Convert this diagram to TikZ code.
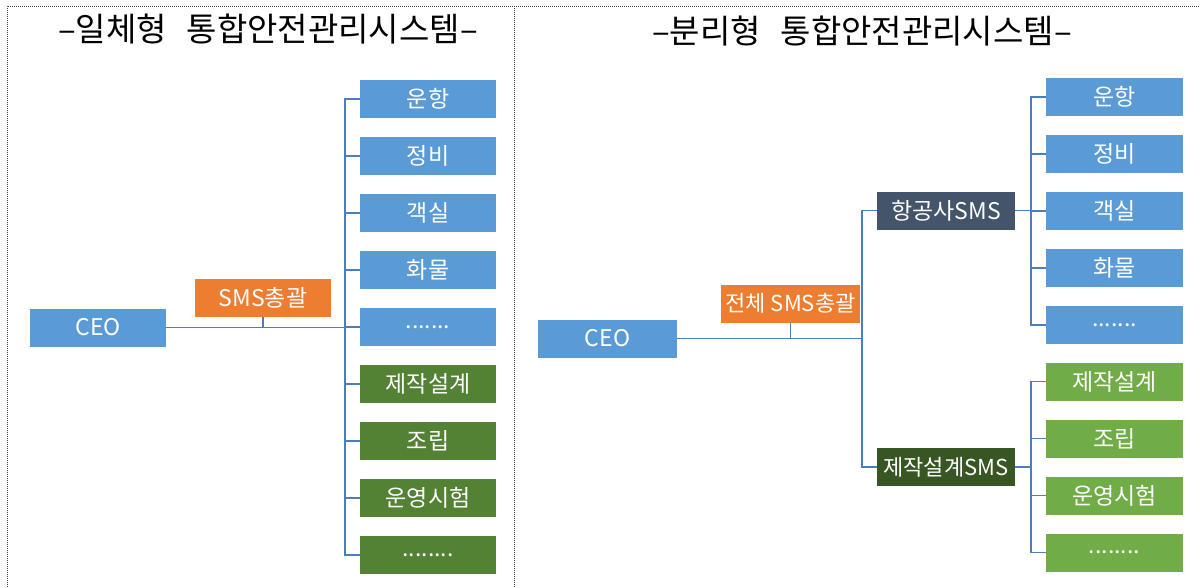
\documentclass[tikz,border=0pt]{standalone}
\usepackage{fontspec}
\setmainfont{Noto Sans CJK KR}
\definecolor{bboxc}{HTML}{5B9BD5}
\definecolor{dgreen}{HTML}{548235}
\definecolor{lgreen}{HTML}{70AD47}
\definecolor{orangec}{HTML}{ED7D31}
\definecolor{slatec}{HTML}{44546A}
\definecolor{ddgreen}{HTML}{375623}
\definecolor{linec}{HTML}{4A7EBF}
\newcommand{\mydotsa}{.......}
\newcommand{\mydotsb}{........}
\begin{document}
\begin{tikzpicture}[x=1pt,y=-1pt,
  box/.style={draw=none, minimum height=38pt, inner sep=0pt, text=white, font=\fontsize{23}{23}\selectfont},
  blue/.style={box, fill=bboxc, minimum width=136pt},
  dg/.style={box, fill=dgreen, minimum width=136pt},
  lg/.style={box, fill=lgreen, minimum width=137pt},
  og/.style={box, fill=orangec, minimum width=136pt},
  sl/.style={box, fill=slatec, minimum width=138pt},
  ddg/.style={box, fill=ddgreen, minimum width=138pt},
  conn/.style={draw=linec, line width=1.9pt, line join=miter},
  frame/.style={densely dotted, line width=1pt, draw=black!75},
  title/.style={font=\fontsize{33}{33}\selectfont, text=black, inner sep=0pt}
]
\path[use as bounding box] (0,0) rectangle (1200,587);
\draw[frame] (7,587) -- (7,6) -- (1200,6);
\draw[frame] (514,6) -- (514,587);

% titles
\node[title] (tl) at (268,29) {–일체형\hspace{0.6em}통합안전관리시스템–};
\node[title] (tr) at (862,31) {–분리형\hspace{0.6em}통합안전관리시스템–};

% left panel
\node[blue] (ceoL) at (98,327.5) {CEO};
\node[og] (smsL) at (263,298) {SMS총괄};
\foreach \t [count=\i from 0] in {운항,정비,객실,화물,\mydotsa}
  \node[blue] (lb\i) at (428,{99+57*\i}) {\t};
\foreach \t [count=\i from 0] in {제작설계,조립,운영시험,\mydotsb}
  \node[dg] (lg\i) at (428,{384+57*\i}) {\t};
\coordinate (ljx) at (345,0);
\draw[conn] (ceoL.east) -- (ceoL.east -| ljx);
\draw[conn] (smsL.south) -- (smsL.south |- ceoL.east);
\draw[conn] (lb0.west) -- (lb0.west -| ljx) -- (lg3.west -| ljx) -- (lg3.west);
\foreach \i in {1,2,3,4} \draw[conn] (lb\i.west -| ljx) -- (lb\i.west);
\foreach \i in {0,1,2} \draw[conn] (lg\i.west -| ljx) -- (lg\i.west);

% right panel
\node[blue, minimum width=139pt] (ceoR) at (607.5,338.5) {CEO};
\node[og, minimum width=139pt, font=\fontsize{22}{22}\selectfont] (smsR) at (790.5,303.5) {전체 SMS총괄};
\node[sl] (air) at (946,210.5) {항공사SMS};
\node[ddg, font=\fontsize{22}{22}\selectfont] (mfg) at (946,467) {제작설계SMS};
\foreach \t [count=\i from 0] in {운항,정비,객실,화물,\mydotsa}
  \node[blue, minimum width=137pt] (rb\i) at (1114.5,{97+57*\i}) {\t};
\foreach \t [count=\i from 0] in {제작설계,조립,운영시험,\mydotsb}
  \node[lg] (rg\i) at (1114.5,{381.5+57*\i}) {\t};
\coordinate (rjx) at (862,0);
\coordinate (rkx) at (1031,0);
\draw[conn] (ceoR.east) -- (ceoR.east -| rjx);
\draw[conn] (smsR.south) -- (smsR.south |- ceoR.east);
\draw[conn] (air.west) -- (air.west -| rjx) -- (mfg.west -| rjx) -- (mfg.west);
\draw[conn] (rb0.west) -- (rb0.west -| rkx) -- (rb4.west -| rkx) -- (rb4.west);
\foreach \i in {1,2,3} \draw[conn] (rb\i.west -| rkx) -- (rb\i.west);
\draw[conn] (air.east) -- (air.east -| rkx);
\draw[conn] (rg0.west) -- (rg0.west -| rkx) -- (rg3.west -| rkx) -- (rg3.west);
\foreach \i in {1,2} \draw[conn] (rg\i.west -| rkx) -- (rg\i.west);
\draw[conn] (mfg.east) -- (mfg.east -| rkx);
\end{tikzpicture}
\end{document}
